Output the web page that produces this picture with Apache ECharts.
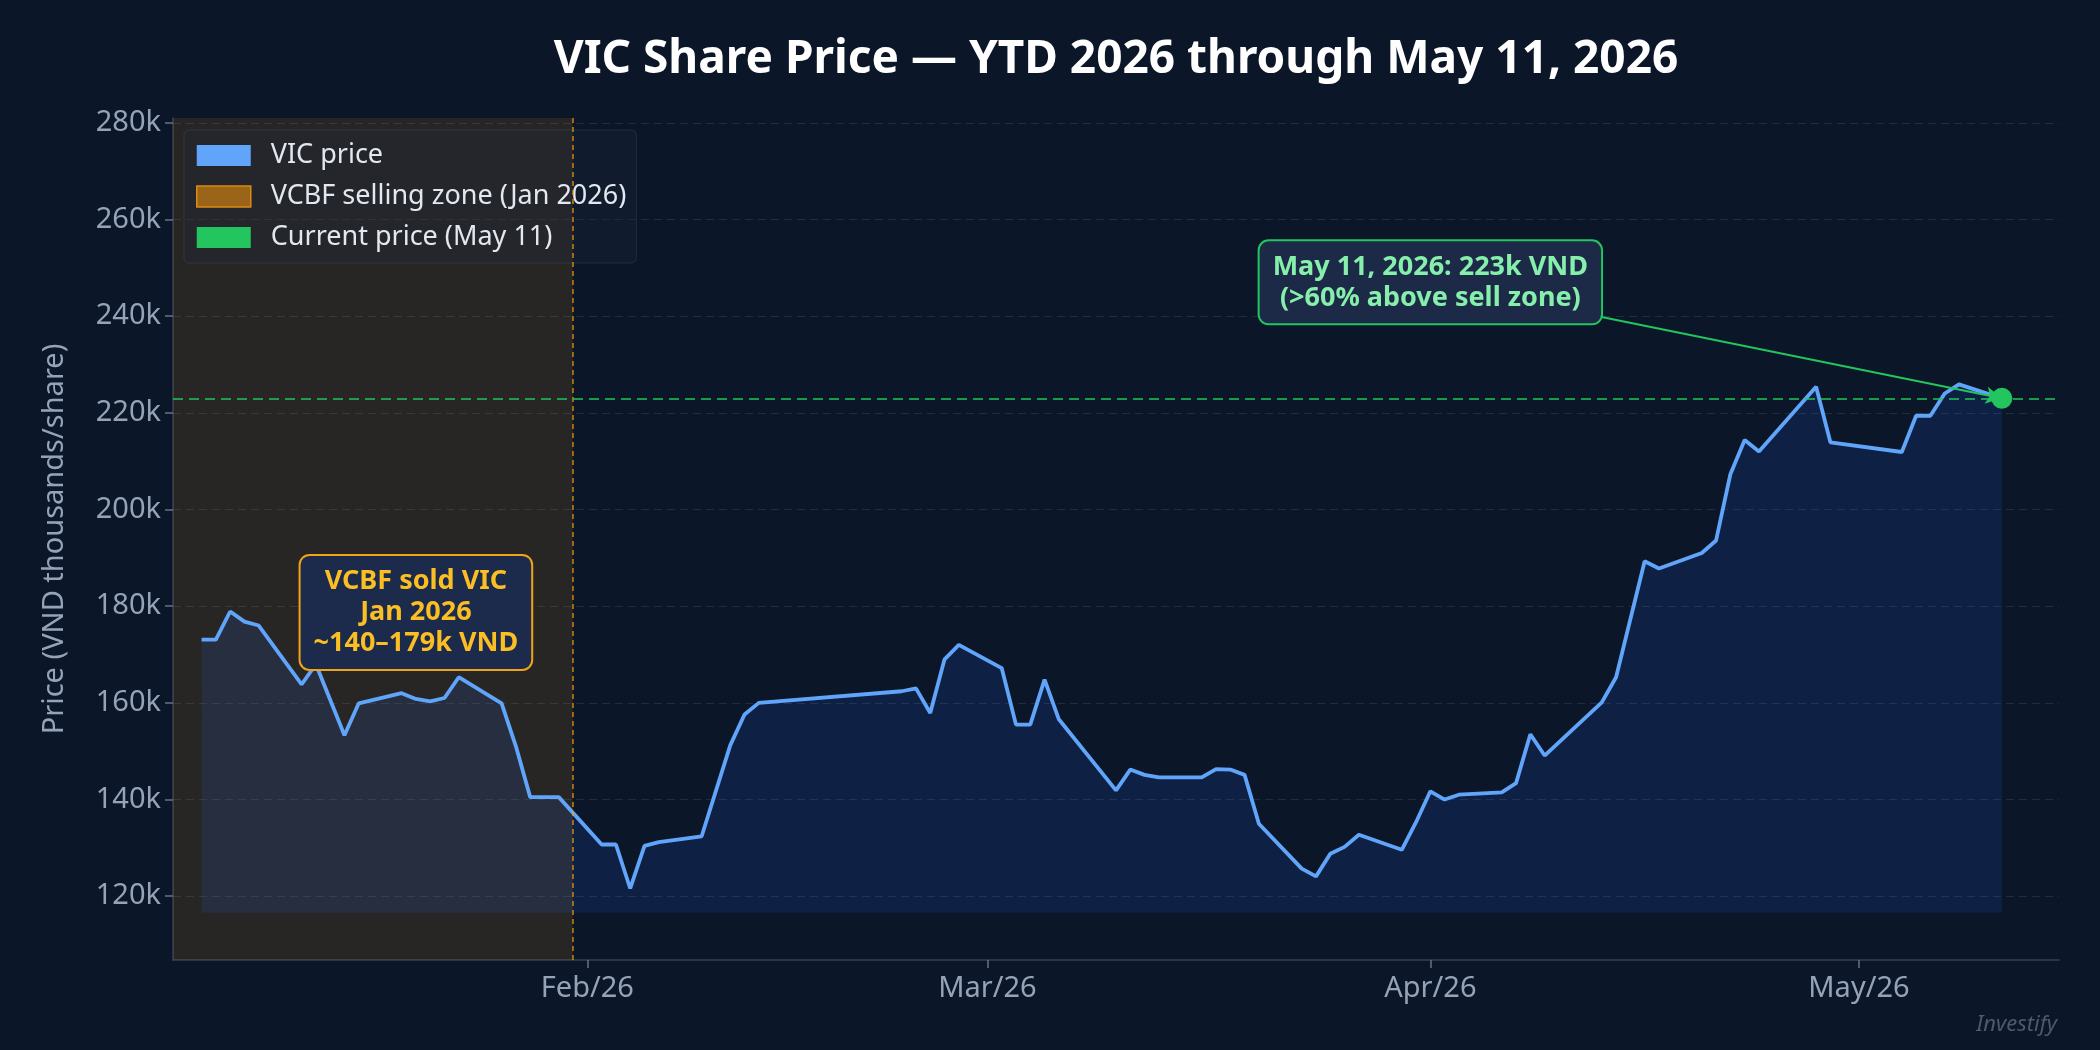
<!DOCTYPE html>
<html>
<head>
<meta charset="utf-8">
<title>VIC Share Price YTD 2026</title>
<script src="https://cdn.jsdelivr.net/npm/echarts@6/dist/echarts.min.js"></script>
<style>
  html, body { margin: 0; padding: 0; background: #0b1628; }
  #vic-chart { width: 2100px; height: 1050px; }
</style>
</head>
<body>
<div id="vic-chart"></div>
<script>
// closing prices, VND thousands per share
var tradeDates = [
  '2026-01-05', '2026-01-06', '2026-01-07', '2026-01-08', '2026-01-09',
  '2026-01-12', '2026-01-13', '2026-01-15', '2026-01-16',
  '2026-01-19', '2026-01-20', '2026-01-21', '2026-01-22', '2026-01-23',
  '2026-01-26', '2026-01-27', '2026-01-28', '2026-01-29', '2026-01-30',
  '2026-02-02', '2026-02-03', '2026-02-04', '2026-02-05', '2026-02-06',
  '2026-02-09', '2026-02-11', '2026-02-12', '2026-02-13',
  '2026-02-23', '2026-02-24', '2026-02-25', '2026-02-26', '2026-02-27',
  '2026-03-02', '2026-03-03', '2026-03-04', '2026-03-05', '2026-03-06',
  '2026-03-10', '2026-03-11', '2026-03-12', '2026-03-13',
  '2026-03-16', '2026-03-17', '2026-03-18', '2026-03-19', '2026-03-20',
  '2026-03-23', '2026-03-24', '2026-03-25', '2026-03-26', '2026-03-27',
  '2026-03-30', '2026-03-31', '2026-04-01', '2026-04-02', '2026-04-03',
  '2026-04-06', '2026-04-07', '2026-04-08', '2026-04-09',
  '2026-04-13', '2026-04-14', '2026-04-16', '2026-04-17',
  '2026-04-20', '2026-04-21', '2026-04-22', '2026-04-23', '2026-04-24',
  '2026-04-28', '2026-04-29',
  '2026-05-04', '2026-05-05', '2026-05-06', '2026-05-07', '2026-05-08',
  '2026-05-11'
];
var closePrices = [
  173.1, 173.1, 178.9, 176.8, 176.0,
  163.8, 168.0, 153.3, 159.9,
  162.0, 160.8, 160.3, 161.0, 165.3,
  159.9, 151.0, 140.5, 140.5, 140.5,
  130.7, 130.7, 121.6, 130.4, 131.2,
  132.4, 151.2, 157.6, 160.0,
  162.4, 163.0, 157.9, 169.0, 172.0,
  167.2, 155.5, 155.5, 164.8, 156.6,
  141.9, 146.2, 145.1, 144.6,
  144.6, 146.3, 146.2, 145.1, 135.0,
  125.7, 124.1, 128.8, 130.2, 132.7,
  129.6, 135.3, 141.7, 140.0, 141.0,
  141.5, 143.4, 153.5, 149.1,
  160.1, 165.3, 189.3, 187.8,
  191.0, 193.6, 207.3, 214.4, 212.0,
  225.4, 213.9,
  211.9, 219.4, 219.4, 224.0, 225.9,
  223.0
];

var yTicks = [120, 140, 160, 180, 200, 220, 240, 260, 280];
var monthTicks = ['2026-02-01', '2026-03-01', '2026-04-01', '2026-05-01'];
var monthLabels = ['Feb/26', 'Mar/26', 'Apr/26', 'May/26'];

var axisStart = '2026-01-03';
var axisEnd = '2026-05-15';
var sellZoneEnd = '2026-01-31';
var currentDate = '2026-05-11';
var currentPrice = 223;
var fillBase = 116.6;

var sellNoteAt = ['2026-01-20', 178.7];
var currentNoteAt = ['2026-04-01', 247];

var toTime = function (d) { return Date.parse(d); };

var priceData = tradeDates.map(function (d, i) {
  return [toTime(d), closePrices[i]];
});
var monthTickTimes = monthTicks.map(toTime);

var fontFamily = 'Noto Sans';
var gridLeft = 173;
var gridRight = 41;

var vicChart = echarts.init(document.getElementById('vic-chart'));

var vicChartOptions = {
  backgroundColor: '#0b1628',
  animation: false,
  textStyle: {
    fontFamily: fontFamily
  },
  grid: {
    left: gridLeft,
    right: gridRight,
    top: 118,
    bottom: 90,
    outerBoundsMode: 'none'
  },
  legend: {
    orient: 'vertical',
    left: 184,
    top: 130,
    padding: [12, 10, 12, 12],
    itemWidth: 54,
    itemHeight: 21,
    itemGap: 14,
    backgroundColor: 'rgba(30,41,59,0.3)',
    borderColor: 'rgba(71,85,105,0.35)',
    borderWidth: 1,
    borderRadius: 5,
    selectedMode: false,
    textStyle: {
      color: '#e2e8f0',
      fontSize: 27,
      padding: [0, 0, 0, 15]
    },
    data: [
      { name: 'VIC price', icon: 'rect', itemStyle: { color: '#60a5fa', borderWidth: 0 } },
      { name: 'VCBF selling zone (Jan 2026)', icon: 'rect', itemStyle: { color: '#9a6419', borderColor: '#d98b12', borderWidth: 1.5 } },
      { name: 'Current price (May 11)', icon: 'rect', itemStyle: { color: '#22c55e', borderWidth: 0, opacity: 1 } }
    ]
  },
  xAxis: {
    type: 'value',
    min: toTime(axisStart),
    max: toTime(axisEnd),
    axisLine: {
      lineStyle: {
        color: '#334155',
        width: 1.5
      }
    },
    axisTick: {
      show: true,
      length: 8,
      customValues: monthTickTimes,
      lineStyle: {
        color: '#64748b',
        width: 1.5
      }
    },
    axisLabel: {
      customValues: monthTickTimes,
      margin: 14,
      fontSize: 29,
      color: '#94a3b8',
      formatter: function (value) {
        var i = monthTickTimes.indexOf(value);
        return i >= 0 ? monthLabels[i] : '';
      }
    },
    splitLine: {
      show: false
    }
  },
  yAxis: {
    type: 'value',
    min: 106.8,
    max: 281,
    name: 'Price (VND thousands/share)',
    nameLocation: 'middle',
    nameGap: 104,
    nameTextStyle: {
      color: '#94a3b8',
      fontSize: 29
    },
    axisLine: {
      show: true,
      lineStyle: {
        color: '#334155',
        width: 1.5
      }
    },
    axisTick: {
      show: true,
      length: 8,
      customValues: yTicks,
      lineStyle: {
        color: '#64748b',
        width: 1.5
      }
    },
    axisLabel: {
      customValues: yTicks,
      margin: 12,
      fontSize: 29,
      color: '#94a3b8',
      formatter: function (value) {
        return value + 'k';
      }
    },
    splitLine: {
      show: true,
      lineStyle: {
        color: 'rgba(148,163,184,0.16)',
        width: 1,
        type: [8, 5]
      }
    }
  },
  series: [
    {
      name: 'VCBF selling zone (Jan 2026)',
      type: 'line',
      data: [],
      z: 1,
      markArea: {
        silent: true,
        itemStyle: {
          color: 'rgba(245,158,11,0.12)'
        },
        data: [[{ xAxis: toTime(axisStart) }, { xAxis: toTime(sellZoneEnd) }]]
      },
      markLine: {
        silent: true,
        symbol: 'none',
        label: { show: false },
        lineStyle: {
          color: '#f59e0b',
          width: 1.5,
          type: [5, 4],
          opacity: 0.8
        },
        data: [{ xAxis: toTime(sellZoneEnd) }]
      }
    },
    {
      name: 'VIC price',
      type: 'line',
      data: priceData,
      z: 3,
      showSymbol: false,
      lineStyle: {
        color: '#60a5fa',
        width: 3.8
      },
      itemStyle: {
        color: '#60a5fa'
      },
      areaStyle: {
        origin: fillBase,
        color: 'rgba(37,99,235,0.2)'
      }
    },
    {
      name: 'Current price (May 11)',
      type: 'scatter',
      data: [[toTime(currentDate), currentPrice]],
      z: 6,
      symbolSize: 21,
      itemStyle: {
        color: '#22c55e',
        opacity: 1
      },
      markLine: {
        silent: true,
        symbol: 'none',
        label: { show: false },
        lineStyle: {
          color: '#22c55e',
          width: 2,
          type: [10, 6],
          opacity: 0.75
        },
        data: [
          { yAxis: currentPrice },
          [
            { coord: [toTime(currentNoteAt[0]), currentNoteAt[1]], symbol: 'none' },
            {
              coord: [toTime(currentDate), currentPrice],
              symbol: 'arrow',
              symbolSize: [13, 16],
              lineStyle: { type: 'solid', opacity: 1, width: 2 }
            }
          ]
        ]
      }
    }
  ]
};
vicChart.setOption(vicChartOptions, true);

// annotation boxes, anchored on data coordinates
var sellPx = vicChart.convertToPixel({ gridIndex: 0 }, [toTime(sellNoteAt[0]), sellNoteAt[1]]);
var currentPx = vicChart.convertToPixel({ gridIndex: 0 }, [toTime(currentNoteAt[0]), currentNoteAt[1]]);
var chartWidth = vicChart.getWidth();

vicChart.setOption({
  graphic: [
    {
      type: 'text',
      x: gridLeft + (chartWidth - gridLeft - gridRight) / 2,
      y: 60,
      z: 100,
      style: {
        text: 'VIC Share Price \u2014 YTD 2026 through May 11, 2026',
        fill: '#ffffff',
        fontFamily: fontFamily,
        fontSize: 46,
        fontWeight: 'bold',
        align: 'center',
        verticalAlign: 'middle'
      }
    },
    {
      type: 'text',
      x: sellPx[0],
      y: sellPx[1],
      z: 100,
      style: {
        text: 'VCBF sold VIC\nJan 2026\n~140\u2013179k VND',
        fill: '#fbbf24',
        fontFamily: fontFamily,
        fontSize: 27,
        fontWeight: 'bold',
        lineHeight: 31,
        align: 'center',
        verticalAlign: 'middle',
        backgroundColor: '#1c2b4b',
        borderColor: '#f0a416',
        borderWidth: 2,
        borderRadius: 9,
        padding: [10, 13, 10, 13]
      }
    },
    {
      type: 'text',
      x: currentPx[0],
      y: currentPx[1],
      z: 100,
      style: {
        text: 'May 11, 2026: 223k VND\n(>60% above sell zone)',
        fill: '#86efac',
        fontFamily: fontFamily,
        fontSize: 27,
        fontWeight: 'bold',
        lineHeight: 31,
        align: 'center',
        verticalAlign: 'middle',
        backgroundColor: '#1c2a48',
        borderColor: '#22c55e',
        borderWidth: 2,
        borderRadius: 9,
        padding: [10, 13, 10, 13]
      }
    },
    {
      type: 'text',
      right: 43,
      bottom: 14,
      z: 100,
      style: {
        text: 'Investify',
        fill: '#4b5a70',
        fontFamily: fontFamily,
        fontSize: 22,
        fontStyle: 'italic'
      }
    }
  ]
});
</script>
</body>
</html>
